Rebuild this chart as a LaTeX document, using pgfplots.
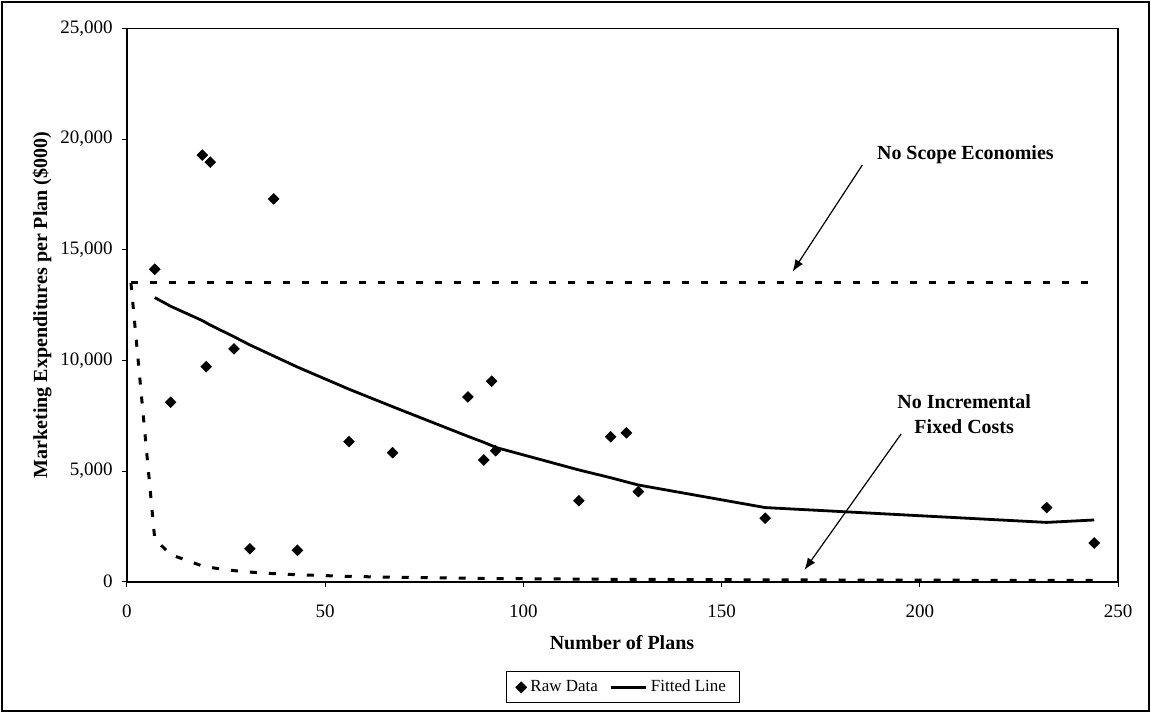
\documentclass[border=0pt]{standalone}
\usepackage{pgfplots}
\pgfplotsset{compat=1.18}
\usepackage{pgfplotstable}
\usepackage{fontspec}
\setmainfont{Liberation Serif}
\usetikzlibrary{arrows.meta}

\pgfplotstableread{
x y
7 14120
11 8110
19 19280
20 9720
21 18960
27 10520
31 1490
37 17300
43 1420
56 6330
67 5830
86 8350
90 5500
92 9060
93 5920
114 3660
122 6550
126 6730
129 4070
161 2870
232 3350
244 1750
}\rawdata

\pgfplotstableread{
x y
7 12840
11 12450
19 11800
20 11700
21 11600
27 11070
31 10700
37 10200
43 9700
56 8700
67 7910
86 6570
90 6300
92 6150
93 6070
114 5050
122 4700
126 4510
129 4370
161 3350
232 2680
244 2790
}\fitted

\pgfplotstableread{
x y
1 13500
7 13500
11 13500
19 13500
20 13500
21 13500
27 13500
31 13500
37 13500
43 13500
56 13500
67 13500
86 13500
90 13500
92 13500
93 13500
114 13500
122 13500
126 13500
129 13500
161 13500
232 13500
244 13500
}\noscope

\pgfplotstableread{
x y
1 13500
7 1929
11 1227
19 711
20 675
21 643
27 500
31 435
37 365
43 314
56 241
67 201
86 157
90 150
92 147
93 145
114 118
122 111
126 107
129 105
161 84
232 58
244 55
}\nofixed

\begin{document}
\begin{tikzpicture}
\useasboundingbox (-63.5pt,-65.65pt) rectangle (512pt,290.85pt);
\draw[line width=1pt] (-62.5pt,-64.65pt) rectangle (511pt,289.85pt);
\begin{axis}[
  at={(0pt,0pt)}, anchor=south west,
  scale only axis,
  width=495.5pt, height=276.6pt,
  xmin=0, xmax=250, ymin=0, ymax=25000,
  xtick={0,50,...,250},
  ytick={0,5000,...,25000},
  scaled y ticks=false,
  /pgf/number format/1000 sep={,},
  /pgf/number format/assume math mode=true,
  tick align=outside,
  major tick length=2.5pt,
  tick style={black, line width=0.5pt},
  xtick pos=bottom, ytick pos=left,
  axis line style={line width=0.8pt},
  ticklabel style={font=\fontsize{9.5}{10}\selectfont},
  xticklabel style={yshift=-5.5pt},
  yticklabel style={xshift=-1.2pt},
  legend style={at={(0.5005,-0.191)}, anchor=center, draw=black, line width=0.5pt,
    font=\fontsize{8.5}{9.5}\selectfont, inner xsep=5pt, inner ysep=2pt,
    /tikz/every even column/.append style={column sep=4pt}},
  legend columns=2,
  legend cell align=left,
  clip=false,
]
\addplot[black, line width=1.5pt, dash pattern=on 3.5pt off 6pt, forget plot] table[x=x,y=y] {\noscope};
\addplot[black, line width=1.5pt, dash pattern=on 3.5pt off 6pt, forget plot] table[x=x,y=y] {\nofixed};
\addplot[only marks, mark=square*, mark size=1.85pt, mark options={rotate=45, fill=black, draw=black}] table[x=x,y=y] {\rawdata};
\addlegendentry{Raw Data}
\addplot[black, line width=1.4pt, mark=none] table[x=x,y=y] {\fitted};
\addlegendentry{Fitted Line}

\node[font=\bfseries\fontsize{10}{12}\selectfont] at (axis cs:211.5,19290) {No Scope Economies};
\draw[line width=0.6pt, -{Latex[length=6pt,width=4.5pt]}] (axis cs:185.5,18830) -- (axis cs:167.9,14010);
\node[font=\bfseries\fontsize{10}{12.5}\selectfont, align=center] at (axis cs:211.2,7580) {No Incremental\\Fixed Costs};
\draw[line width=0.6pt, -{Latex[length=6pt,width=4.5pt]}] (axis cs:195.3,6680) -- (axis cs:170.9,530);
\end{axis}
\node[font=\bfseries\fontsize{10}{12}\selectfont, rotate=90] at (-42.5pt,138.35pt) {Marketing Expenditures per Plan (\$000)};
\node[font=\bfseries\fontsize{10}{12}\selectfont] at (247.5pt,-30.65pt) {Number of Plans};
\end{tikzpicture}
\end{document}
